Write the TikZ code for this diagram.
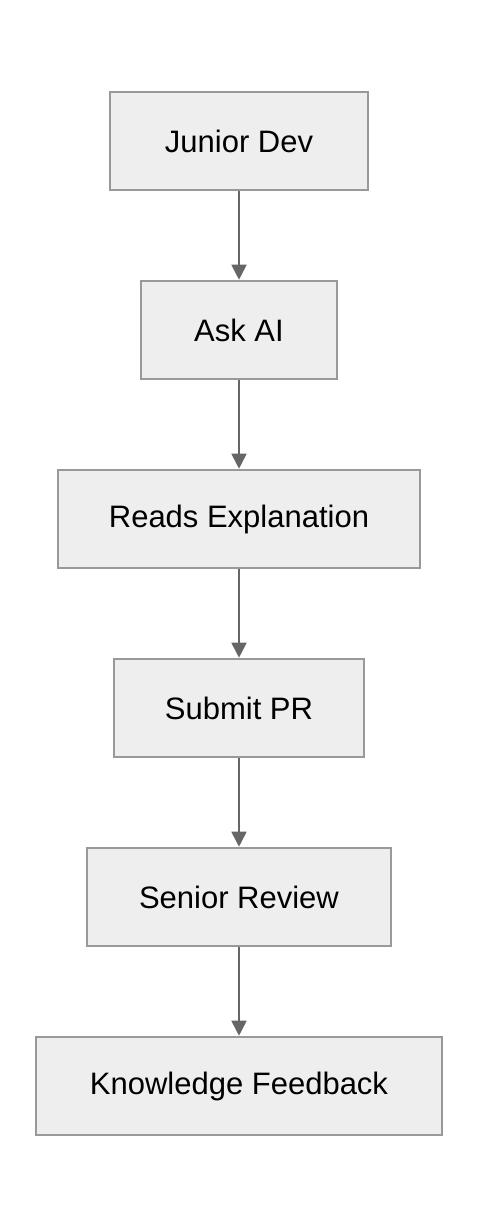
\documentclass[tikz,border=0pt]{standalone}
\usepackage{fontspec}
\setmainfont{Liberation Sans}
\usetikzlibrary{arrows.meta}
\definecolor{boxfill}{HTML}{EEEEEE}
\definecolor{boxline}{HTML}{999999}
\definecolor{arrowc}{HTML}{666666}
\begin{document}
\begin{tikzpicture}[x=1pt,y=-1pt,
  stepbox/.style={draw=boxline, fill=boxfill, line width=1.6pt, minimum height=98pt,
    inner sep=0pt, font=\fontsize{31}{37}\selectfont, text=black},
  flow/.style={draw=arrowc, line width=1.8pt, -{Triangle[length=15pt,width=15pt]}, shorten >=0.5pt}]
\useasboundingbox[fill=white] (0,0) rectangle (478,1228);
\node[stepbox, minimum width=258pt] (a) at (239,141) {Junior Dev};
\node[stepbox, minimum width=196pt] (b) at (239,330) {Ask AI};
\node[stepbox, minimum width=362pt] (c) at (239,519) {Reads Explanation};
\node[stepbox, minimum width=250pt] (d) at (239,708) {Submit PR};
\node[stepbox, minimum width=304pt] (e) at (239,897) {Senior Review};
\node[stepbox, minimum width=406pt] (f) at (239,1086) {Knowledge Feedback};
\draw[flow] (a) -- (b);
\draw[flow] (b) -- (c);
\draw[flow] (c) -- (d);
\draw[flow] (d) -- (e);
\draw[flow] (e) -- (f);
\end{tikzpicture}
\end{document}
